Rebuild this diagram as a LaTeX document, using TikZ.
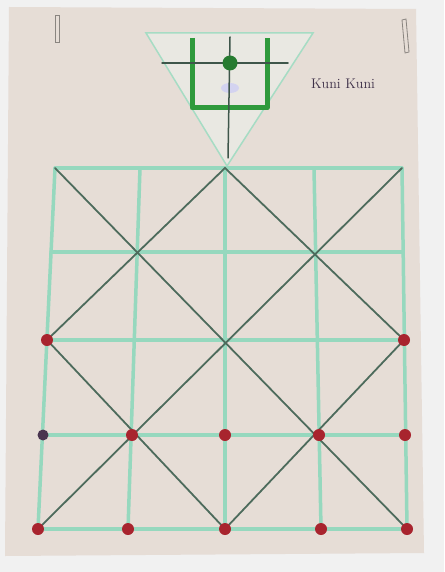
\documentclass[tikz,border=0pt]{standalone}
\begin{document}
\begin{tikzpicture}[x=1pt,y=-1pt,
  gridline/.style={draw=gridgreen,line width=3.5pt,line cap=round},
  diagline/.style={draw=diagdark,line width=1.8pt,line cap=round},
  reddot/.style={circle,fill=dotred,inner sep=0pt,minimum size=12pt},
  bluedot/.style={circle,fill=dotblue,inner sep=0pt,minimum size=11pt},
  staple/.style={draw=staplegray,line width=0.8pt}]
\definecolor{bgpaper}{HTML}{E6DDD6}
\definecolor{bgwall}{HTML}{F1F1F1}
\definecolor{gridgreen}{HTML}{96D8BE}
\definecolor{diagdark}{HTML}{4D6B5C}
\definecolor{dotred}{HTML}{A8242E}
\definecolor{dotblue}{HTML}{4A3550}
\definecolor{ugreen}{HTML}{2F9A3C}
\definecolor{tridgreen}{HTML}{A6DCC4}
\definecolor{textpurple}{HTML}{3E3048}
\definecolor{staplegray}{HTML}{8A8580}
\useasboundingbox (0,0) rectangle (444,572);
\fill[bgwall] (0,0) rectangle (444,572);
\fill[bgpaper] (9,7) -- (416,9) -- (424,553) -- (5,556) -- cycle;
% staples
\draw[staple] (55,15) rectangle (59,42);
\draw[staple] (402,20) -- (406,19) -- (409,52) -- (405,53) -- cycle;
% grid points
\foreach \r/\y/\a/\b/\c/\d/\e in {0/168/55/140/225/314/402,1/252/51/137/225/316/403,2/340/47/134/225/318/404,3/435/43/132/225/319/405,4/529/38/128/225/321/407}{
  \coordinate (g-0-\r) at (\a,\y);
  \coordinate (g-1-\r) at (\b,\y);
  \coordinate (g-2-\r) at (\c,\y);
  \coordinate (g-3-\r) at (\d,\y);
  \coordinate (g-4-\r) at (\e,\y);
}
% triangle
\coordinate (t-l) at (146,33);
\coordinate (t-r) at (313,33);
\coordinate (t-a) at (227,166);
\filldraw[fill=white!35!bgpaper!92!tridgreen,draw=tridgreen,line width=1.5pt] (t-l) -- (t-r) -- (t-a) -- cycle;
% grid
\foreach \i in {0,...,4}{
  \draw[gridline] (g-\i-0) -- (g-\i-4);
  \draw[gridline] (g-0-\i) -- (g-4-\i);
}
% diagonals
\draw[diagline] (g-0-0) -- (g-4-4);
\draw[diagline] (g-4-0) -- (g-0-4);
\draw[diagline] (g-2-0) -- (g-0-2) -- (g-2-4) -- (g-4-2) -- cycle;
% palace
\coordinate (u-1) at (192,38);
\coordinate (u-2) at (192,108);
\coordinate (u-3) at (267,108);
\coordinate (u-4) at (267,38);
\coordinate (h-l) at (162,63);
\coordinate (h-r) at (288,63);
\coordinate (v-t) at (230,37);
\coordinate (v-b) at (228,158);
\fill[blue!25,opacity=0.5] (230,88) ellipse (9 and 5);
\draw[draw=ugreen,line width=5pt,line join=round] (u-1) -- (u-2) -- (u-3) -- (u-4);
\draw[diagline,line width=1.5pt,draw=diagdark!80!black] (h-l) -- (h-r);
\draw[diagline,line width=1.5pt,draw=diagdark!80!black] (v-t) -- (v-b);
\node[circle,fill=ugreen!80!black,inner sep=0pt,minimum width=15pt,minimum height=13pt] (king) at (230,63) {};
% title
\node[text=textpurple,font=\fontsize{14}{16}\selectfont] (title) at (343,84) {Kuni Kuni};
% pieces
\node[reddot] (d-0-2) at (g-0-2) {};
\node[reddot] (d-4-2) at (g-4-2) {};
\node[bluedot] (d-0-3) at (g-0-3) {};
\foreach \i in {1,...,4}{\node[reddot] (d-\i-3) at (g-\i-3) {};}
\foreach \i in {0,...,4}{\node[reddot] (d-\i-4) at (g-\i-4) {};}
\end{tikzpicture}
\end{document}
